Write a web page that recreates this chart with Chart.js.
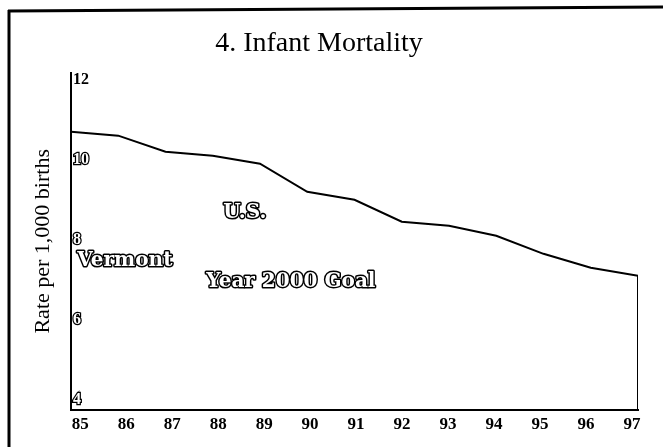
<!DOCTYPE html>
<html>
<head>
<meta charset="utf-8">
<script src="https://cdn.jsdelivr.net/npm/chart.js@4"></script>
<style>
  html, body { margin: 0; padding: 0; background: #fff; }
  canvas { display: block; }
</style>
</head>
<body>
<canvas id="chart" width="663" height="447"></canvas>
<script>
// U.S. infant mortality
const years = [85, 86, 87, 88, 89, 90, 91, 92, 93, 94, 95, 96, 97];
const usRate = [10.7, 10.6, 10.2, 10.1, 9.9, 9.2, 9.0, 8.45, 8.35, 8.1, 7.65, 7.3, 7.1];
const rateTicks = [4, 6, 8, 10, 12];
const yMin = 3.75;
const yMax = 12.175;

const serif = '"Liberation Serif", "Times New Roman", serif';

// frame of the scanned page + outlined series names
const pagePlugin = {
  id: 'page',
  beforeDraw(chart) {
    const ctx = chart.ctx;
    ctx.save();
    ctx.fillStyle = '#fff';
    ctx.fillRect(0, 0, chart.width, chart.height);
    ctx.strokeStyle = '#000';
    ctx.lineWidth = 3;
    ctx.beginPath();
    ctx.moveTo(8, 11);
    ctx.lineTo(chart.width, 7);
    ctx.moveTo(9, 10);
    ctx.lineTo(9, chart.height);
    ctx.stroke();
    ctx.restore();
  },
  afterDraw(chart) {
    const { ctx, scales } = chart;
    const notes = [
      { text: 'U.S.', x: 88.22, y: 8.675 },
      { text: 'Vermont', x: 85.13, y: 7.475 },
      { text: 'Year 2000 Goal', x: 87.86, y: 6.95 }
    ];
    ctx.save();
    ctx.font = 'bold 20px "DejaVu Serif", serif';
    ctx.textAlign = 'left';
    ctx.textBaseline = 'middle';
    ctx.lineJoin = 'round';
    notes.forEach((n) => {
      const px = scales.x.getPixelForValue(n.x);
      const py = scales.y.getPixelForValue(n.y);
      ctx.lineWidth = 3;
      ctx.strokeStyle = '#000';
      ctx.strokeText(n.text, px, py);
      ctx.fillStyle = '#fff';
      ctx.fillText(n.text, px, py);
    });
    ctx.restore();
  }
};

new Chart(document.getElementById('chart').getContext('2d'), {
  type: 'line',
  data: {
    datasets: [
      {
        label: 'U.S.',
        data: years.map((yr, i) => ({ x: yr, y: usRate[i] })),
        borderColor: '#000',
        borderWidth: 2,
        pointRadius: 0,
        tension: 0
      },
      {
        // drop from the last value to the base of the chart
        label: 'edge',
        data: [
          { x: years[years.length - 1], y: usRate[usRate.length - 1] },
          { x: years[years.length - 1], y: yMin }
        ],
        borderColor: '#000',
        borderWidth: 2,
        pointRadius: 0
      }
    ]
  },
  options: {
    responsive: false,
    animation: false,
    layout: { padding: { left: 0, top: 0, right: 25, bottom: 0 } },
    plugins: {
      legend: { display: false },
      tooltip: { enabled: false },
      title: {
        display: true,
        text: '4. Infant Mortality',
        color: '#000',
        font: { family: serif, size: 28, weight: 'normal' },
        padding: { top: 27, bottom: 12 }
      }
    },
    scales: {
      x: {
        type: 'linear',
        display: false,
        min: years[0],
        max: years[years.length - 1]
      },
      xl: {
        type: 'linear',
        position: 'bottom',
        min: 84.8,
        max: 97.13,
        afterBuildTicks: (scale) => {
          scale.ticks = years.map((v) => ({ value: v }));
        },
        afterFit: (scale) => {
          scale.height = 37;
        },
        grid: { display: false, drawTicks: false },
        border: { display: true, color: '#000', width: 2 },
        ticks: {
          color: '#000',
          padding: 4,
          font: { family: serif, size: 17, weight: 'bold' },
          callback: (v) => String(v)
        }
      },
      y: {
        position: 'left',
        min: yMin,
        max: yMax,
        afterBuildTicks: (scale) => {
          scale.ticks = rateTicks.map((v) => ({ value: v }));
        },
        afterFit: (scale) => {
          scale.width = 71;
        },
        grid: { display: false, drawTicks: false },
        border: { display: true, color: '#000', width: 2 },
        title: {
          display: true,
          text: 'Rate per 1,000 births',
          color: '#000',
          font: { family: serif, size: 22, weight: 'normal' },
          padding: { top: 30, bottom: 0 }
        },
        ticks: {
          mirror: true,
          padding: 2,
          font: { family: serif, size: 16, weight: 'bold' },
          color: (c) => (c.tick && c.tick.value === 12 ? '#000' : '#fff'),
          textStrokeColor: '#000',
          textStrokeWidth: (c) => (c.tick && c.tick.value === 12 ? 0 : 2.5),
          callback: (v) => String(v)
        }
      }
    }
  },
  plugins: [pagePlugin]
});
</script>
</body>
</html>
